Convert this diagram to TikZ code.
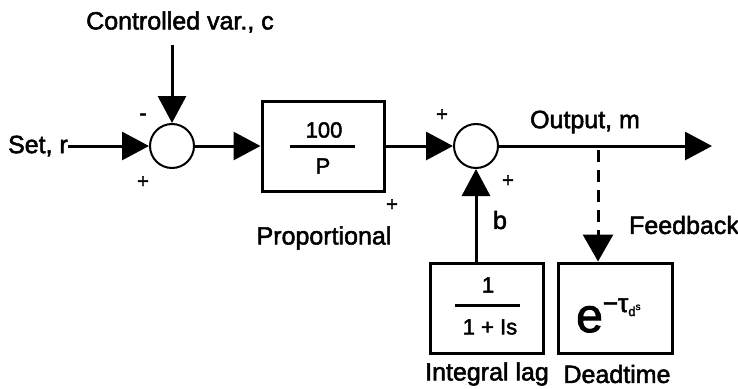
\documentclass[tikz,border=0pt]{standalone}
\usepackage{fontspec}
\setmainfont{Liberation Sans}[FakeBold=2]
\usetikzlibrary{arrows.meta}
\begin{document}
\begin{tikzpicture}[x=1pt,y=-1pt,
  font=\fontsize{25}{28}\selectfont,
  sumc/.style={circle,draw,line width=2pt,minimum size=44pt,inner sep=0pt},
  blk/.style={draw,line width=3pt,minimum height=90pt,inner sep=0pt},
  lbl/.style={inner sep=0pt},
  sig/.style={line width=3pt,-{Triangle[length=27pt,width=28pt]}},
  fb/.style={line width=3pt,dash pattern=on 12pt off 8pt},
  tip/.style={line width=3pt,-{Triangle[length=27pt,width=30pt]}},
  frac/.style={font=\fontsize{22}{24}\selectfont,inner sep=0pt}]
\useasboundingbox (0,0) rectangle (738,388);

% summing junctions and blocks
\node[sumc] (s1) at (172,146) {};
\node[sumc] (s2) at (476,146) {};
\node[blk,minimum width=122pt] (prop) at (323,146) {};
\node[blk,minimum width=113pt] (lag) at (486.5,308) {};
\node[blk,minimum width=114pt] (dead) at (615,308) {};

% block contents
\node[frac] (pn) at (324,130) {100};
\node[frac] (pd) at (323,166) {P};
\draw[line width=3pt] (290,146) -- (355,146);
\node[frac] (ln) at (488,285) {1};
\node[frac] (ld) at (490,327) {1 + Is};
\draw[line width=3pt] (455,305) -- (520,305);
\node[inner sep=0pt,anchor=base west] (dexp) at (576,332)
  {{\fontsize{48}{48}\selectfont e}\raisebox{20pt}{\fontsize{26}{26}\selectfont −τ\raisebox{-4pt}{\fontsize{13}{13}\selectfont d}\raisebox{2pt}{\fontsize{10}{10}\selectfont s}}};

% signal labels
\node[lbl] (cvl) at (180,22) {Controlled var., c};
\node[lbl,anchor=east] (set) at (68,146) {Set, r};
\node[lbl] (outl) at (585,122) {Output, m};
\node[lbl] (fbl) at (684,225) {Feedback};
\node[lbl] (bl) at (500,220) {b};
\node[lbl] (propl) at (324,238) {Proportional};
\node[lbl] (lagl) at (487,374) {Integral lag};
\node[lbl] (deadl) at (617,374) {Deadtime};
\node[lbl,font=\fontsize{22}{24}\selectfont] (m1) at (143,117) {-};
\node[lbl,font=\fontsize{20}{24}\selectfont] (p1) at (143,182) {+};
\node[lbl,font=\fontsize{20}{24}\selectfont] (p2) at (442,115) {+};
\node[lbl,font=\fontsize{20}{24}\selectfont] (p3) at (508,181) {+};
\node[lbl,font=\fontsize{20}{24}\selectfont] (p4) at (392,205) {+};

% connectors
\coordinate (cv) at (172,45);
\coordinate (out) at (712,146);
\coordinate (tap) at (598,146);
\draw[sig] (set.east) -- (s1.west);
\draw[sig] (cv) -- (s1.north);
\draw[sig] (s1.east) -- (prop.west);
\draw[sig] (prop.east) -- (s2.west);
\draw[sig] (lag.north -| s2) -- (s2.south);
\draw[sig] (s2.east) -- (out);
\draw[fb] (tap) ++(0,4) -- (598,236);
\draw[tip] (598,230) -- (dead.north -| tap);
\end{tikzpicture}
\end{document}
